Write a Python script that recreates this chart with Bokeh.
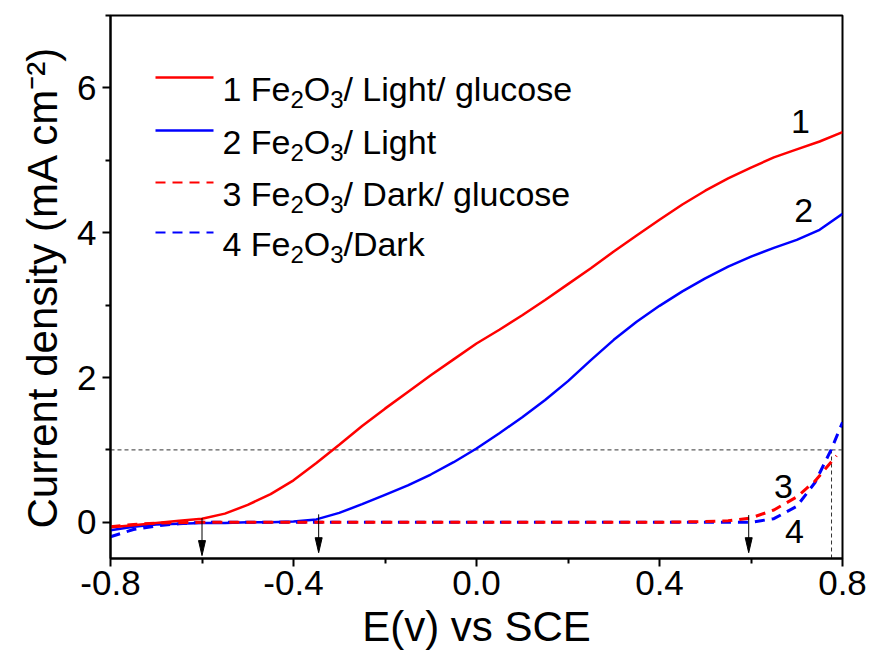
from bokeh.plotting import figure
from bokeh.models import FixedTicker, PrintfTickFormatter
from bokeh.embed import file_html
from bokeh.resources import INLINE
from bokeh.core.properties import value

# ---------------- data ----------------
E_light = [-0.80, -0.75, -0.70, -0.65, -0.60, -0.55, -0.50, -0.45, -0.40, -0.35,
           -0.30, -0.25, -0.20, -0.15, -0.10, -0.05, 0.00, 0.05, 0.10, 0.15,
           0.20, 0.25, 0.30, 0.35, 0.40, 0.45, 0.50, 0.55, 0.60, 0.65,
           0.70, 0.75, 0.80]
J_light_glucose = [-0.07, -0.04, -0.01, 0.02, 0.05, 0.12, 0.24, 0.39, 0.58, 0.82,
                   1.07, 1.33, 1.57, 1.80, 2.03, 2.25, 2.47, 2.66, 2.86, 3.07,
                   3.29, 3.51, 3.74, 3.96, 4.18, 4.39, 4.58, 4.75, 4.90, 5.04,
                   5.15, 5.26, 5.39]
J_light = [-0.11, -0.06, -0.03, -0.02, -0.01, -0.01, 0.00, 0.00, 0.01, 0.04,
           0.13, 0.25, 0.38, 0.51, 0.66, 0.83, 1.02, 1.23, 1.45, 1.69,
           1.95, 2.24, 2.52, 2.77, 2.99, 3.19, 3.37, 3.53, 3.67, 3.79,
           3.90, 4.04, 4.26]

E_dark_glucose = [-0.80, -0.75, -0.70, -0.60, -0.40, -0.20, 0.00, 0.20, 0.40,
                  0.50, 0.55, 0.60, 0.65, 0.70, 0.74, 0.787]
J_dark_glucose = [-0.06, -0.03, -0.01, 0.00, 0.00, 0.00, 0.00, 0.00, 0.00,
                  0.01, 0.02, 0.06, 0.17, 0.35, 0.57, 0.92]

E_dark = [-0.80, -0.75, -0.70, -0.65, -0.60, -0.40, -0.20, 0.00, 0.20, 0.40,
          0.55, 0.60, 0.65, 0.70, 0.74, 0.775, 0.80]
J_dark = [-0.20, -0.10, -0.05, -0.02, 0.00, 0.00, 0.00, 0.00, 0.00, 0.00,
          0.00, 0.00, 0.05, 0.22, 0.55, 1.00, 1.38]

# reference lines
ref_current = 1.0
ref_potential = 0.776

# onset arrows
arrow_E = [-0.60, -0.345, 0.595]
arrow_top = [0.06, 0.11, 0.10]
arrow_tip = [-0.46, -0.42, -0.42]

# curve labels
curve_label_text = ["1", "2", "3", "4"]
curve_label_E = [0.708, 0.715, 0.671, 0.695]
curve_label_J = [5.54, 4.30, 0.49, -0.13]

# legend entries
legend_numbers = ["1", "2", "3", "4"]
legend_suffix = ["/ Light/ glucose", "/ Light", "/ Dark/ glucose", "/Dark"]
legend_colors = ["#ff0000", "#0000ff", "#ff0000", "#0000ff"]
legend_dash = ["solid", "solid", "10 7", "10 7"]

x_ticks = [-0.8, -0.4, 0.0, 0.4, 0.8]
x_minor = [-0.6, -0.2, 0.2, 0.6]
y_ticks = [0, 2, 4, 6]
y_minor = [-1, 1, 3, 5, 7]

# ---------------- layout ----------------
W, H = 872, 660
BL, BR, BT, BB = 110, 30, 15, 102
FW, FH = W - BL - BR, H - BT - BB
XMIN, XMAX = -0.8, 0.8
YMIN, YMAX = -0.5, 7.0
FONT = "Liberation Sans"

def px2x(px):
    return XMIN + (px - BL) / FW * (XMAX - XMIN)

def py2y(py):
    return YMAX - (py - BT) / FH * (YMAX - YMIN)

# Arial / Liberation Sans advance widths (1/1000 em)
AW = {' ': 278, '/': 278, '1': 556, '2': 556, '3': 556, '4': 556, 'F': 611,
      'e': 556, 'O': 778, 'L': 556, 'i': 222, 'g': 556, 'h': 556, 't': 278,
      'l': 222, 'u': 556, 'c': 500, 'o': 556, 's': 500, 'D': 722, 'a': 556,
      'r': 333, 'k': 500}

def tw(s, size):
    return sum(AW.get(ch, 556) for ch in s) / 1000.0 * size

p = figure(width=W, height=H, x_range=(XMIN, XMAX), y_range=(YMIN, YMAX),
           output_backend="svg", toolbar_location=None,
           min_border_left=BL, min_border_right=BR, min_border_top=BT,
           min_border_bottom=BB)
p.background_fill_color = "white"
p.border_fill_color = "white"
p.grid.visible = False
p.outline_line_color = "black"
p.outline_line_width = 2

p.xaxis.ticker = FixedTicker(ticks=x_ticks, minor_ticks=x_minor)
p.yaxis.ticker = FixedTicker(ticks=y_ticks, minor_ticks=y_minor)
p.xaxis.formatter = PrintfTickFormatter(format="%.1f")
p.yaxis.formatter = PrintfTickFormatter(format="%d")
p.xaxis.axis_label = "E(v) vs SCE"
p.yaxis.axis_label = "Current density (mA cm\u207b\u00b2)"
for ax in (p.xaxis[0], p.yaxis[0]):
    ax.axis_line_width = 2
    ax.axis_line_color = "black"
    ax.major_tick_line_width = 2
    ax.minor_tick_line_width = 2
    ax.major_tick_out = 8
    ax.major_tick_in = 0
    ax.minor_tick_out = 5
    ax.minor_tick_in = 0
    ax.major_label_text_font = FONT
    ax.major_label_text_font_size = "35px"
    ax.major_label_text_color = "black"
    ax.axis_label_text_font = FONT
    ax.axis_label_text_font_size = "42px"
    ax.axis_label_text_font_style = "normal"
    ax.axis_label_text_color = "black"
p.xaxis.major_label_standoff = 4
p.yaxis.major_label_standoff = 6
p.xaxis.axis_label_standoff = 5
p.yaxis.axis_label_standoff = 8

# reference dashed lines
p.line([XMIN, XMAX], [ref_current, ref_current], line_color="#333333",
       line_width=1, line_dash="4 3")
p.line([ref_potential, ref_potential], [YMIN, ref_current], line_color="#333333",
       line_width=1, line_dash="4 3")

# curves
p.line(E_dark, J_dark, line_color="#0000ff", line_width=3, line_dash="10 7")
p.line(E_light, J_light, line_color="#0000ff", line_width=2.5)
p.line(E_dark_glucose, J_dark_glucose, line_color="#ff0000", line_width=3,
       line_dash="10 7")
p.line(E_light, J_light_glucose, line_color="#ff0000", line_width=2.5)

# arrows
head_len = 15 / FH * (YMAX - YMIN)
head_half = 3.5 / FW * (XMAX - XMIN)
p.segment(x0=arrow_E, y0=arrow_top, x1=arrow_E,
          y1=[t + head_len * 0.5 for t in arrow_tip], line_color="black",
          line_width=1)
p.patches(xs=[[e - head_half, e + head_half, e] for e in arrow_E],
          ys=[[t + head_len, t + head_len, t] for t in arrow_tip],
          fill_color="black", line_color="black", line_width=1)

# curve labels
p.text(x=curve_label_E, y=curve_label_J, text=curve_label_text,
       text_font=value(FONT), text_font_size=value("34px"),
       text_align="center", text_baseline="middle", text_color="black")

# custom legend with subscripts
LS = 34.0
SUB = 0.7 * LS
line_px0, line_px1, text_px = 155, 213, 222
row_py = [77, 130, 182, 232]
for i in range(4):
    ly = py2y(row_py[i])
    p.line([px2x(line_px0), px2x(line_px1)], [ly, ly],
           line_color=legend_colors[i],
           line_width=2.5 if legend_dash[i] == "solid" else 2,
           line_dash=legend_dash[i])
    base_py = row_py[i] + 0.34 * LS
    pieces = [(legend_numbers[i] + " Fe", False), ("2", True), ("O", False),
              ("3", True), (legend_suffix[i], False)]
    xs, ys, txt, sizes = [], [], [], []
    off = 0.0
    for s, is_sub in pieces:
        size = SUB if is_sub else LS
        xs.append(px2x(text_px + off))
        ys.append(py2y(base_py + (0.32 * LS if is_sub else 0)))
        txt.append(s)
        sizes.append("%dpx" % round(size))
        off += tw(s, size)
    p.text(x=xs, y=ys, text=txt, text_font=value(FONT), text_font_size=sizes,
           text_align="left", text_baseline="alphabetic", text_color="black")

open("out.html", "w").write(file_html(p, INLINE))
